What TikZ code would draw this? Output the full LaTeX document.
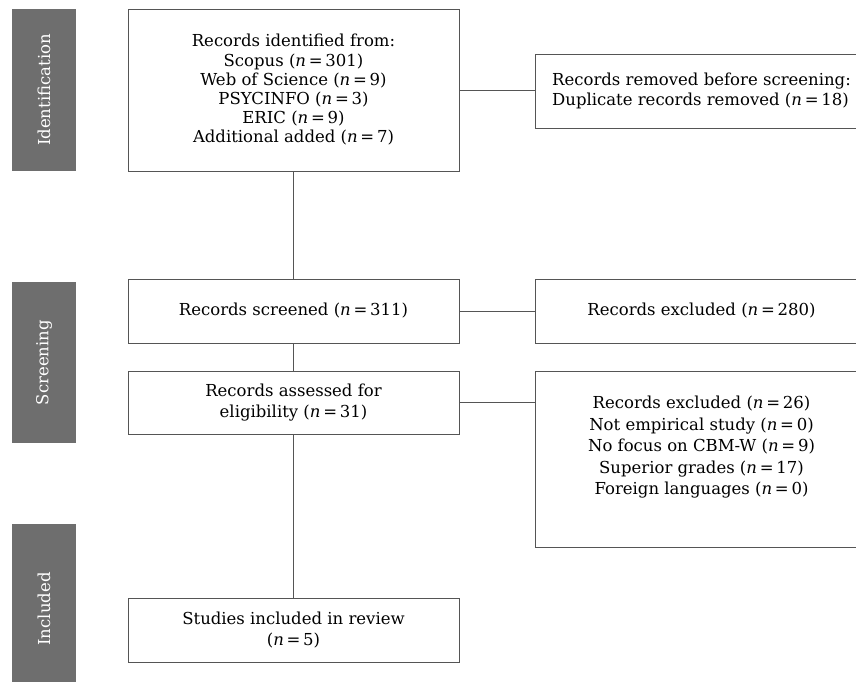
\documentclass[tikz,border=0pt]{standalone}
\usepackage{fontspec}
\setmainfont{DejaVu Serif}
\usepackage{tikz}
\usetikzlibrary{positioning}
\definecolor{bargray}{RGB}{110,110,110}
\definecolor{linegray}{RGB}{85,85,85}
\newcommand{\nval}[1]{(\textit{n}\,=\,#1)}

\begin{document}
\begin{tikzpicture}[x=1pt, y=-1pt, outer sep=0pt, every node/.style={rectangle, inner sep=0pt, anchor=north west, align=center, font=\fontsize{16.5}{21.5}\selectfont},
    box/.style={draw=linegray, line width=0.9pt, minimum width=331pt, minimum height=64pt},
    sidebox/.style={draw=linegray, line width=0.9pt, minimum width=333pt, minimum height=64pt},
    phase/.style={fill=bargray, minimum width=64pt},
    phasetext/.style={rotate=90, anchor=center, text=white},
    link/.style={draw=linegray, line width=0.9pt}]
        \useasboundingbox (0,0) rectangle (856,682);

        \node (idbar) [phase, minimum height=162pt] at (12,9) {};
        \node (idtext) [phasetext] at (idbar.center) {Identification};
        \node (scrbar) [phase, minimum height=161pt] at (12,282) {};
        \node (scrtext) [phasetext] at (scrbar.center) {Screening};
        \node (incbar) [phase, minimum height=170pt] at (12,524) {};
        \node (inctext) [phasetext] at (incbar.center) {Included};

        \node (ident) [box, minimum height=162pt, font=\fontsize{16.5}{19.2}\selectfont] at (128,9) {
            Records identified from:\\
            Scopus \nval{301}\\
            Web of Science \nval{9}\\
            PSYCINFO \nval{3}\\
            ERIC \nval{9}\\
            Additional added \nval{7}
        };
        \node (removed) [sidebox, minimum height=74pt, align=left, font=\fontsize{16.5}{19.2}\selectfont] at (535,54) {
            Records removed before screening:\\
            Duplicate records removed \nval{18}
        };

        \node (screened) [box] at (128,279) {Records screened \nval{311}};
        \node (excl) [sidebox] at (535,279) {Records excluded \nval{280}};

        \node (elig) [box, minimum height=63pt] at (128,371) {
            Records assessed for\\
            eligibility \nval{31}
        };
        \node (exclelig) [sidebox, minimum height=176pt] at (535,371) {
            Records excluded \nval{26}\\
            Not empirical study \nval{0}\\
            No focus on CBM-W \nval{9}\\
            Superior grades \nval{17}\\
            Foreign languages \nval{0}\\[6pt]
            ~
        };

        \node (studies) [box] at (128,598) {
            Studies included in review\\
            \nval{5}
        };

        \draw [link] (ident.east) -- (ident.east -| removed.west);
        \draw [link] (screened.east) -- (excl.west);
        \draw [link] (elig.east) -- (elig.east -| exclelig.west);
        \draw [link] (ident.south) -- (screened.north);
        \draw [link] (screened.south) -- (elig.north);
        \draw [link] (elig.south) -- (studies.north);
    \end{tikzpicture}
\end{document}
